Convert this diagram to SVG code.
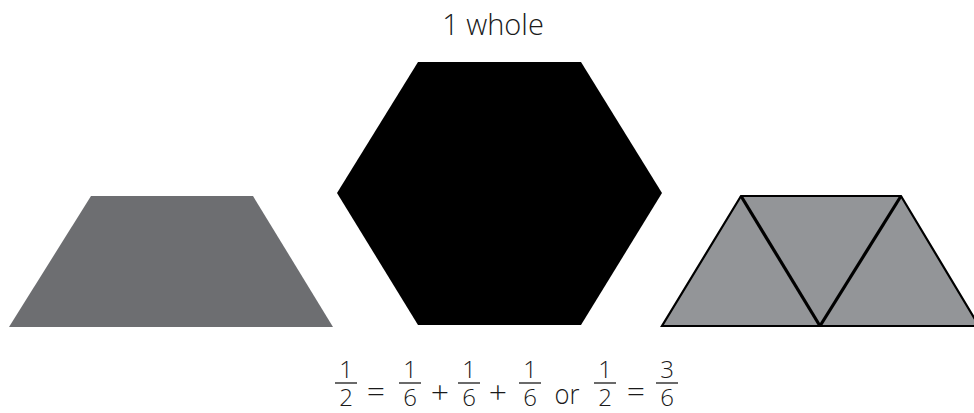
<svg xmlns="http://www.w3.org/2000/svg" width="974" height="413" viewBox="0 0 974 413">
<style>
.t{font-family:"Open Sans","Liberation Sans",sans-serif;font-weight:300;fill:#1a1a1a;text-anchor:middle}
.d{font-size:24px}
.op{font-size:32px}
.bar{stroke:#1a1a1a;stroke-width:1.3}
.tri{fill:#939598;stroke:#000;stroke-width:2.2;stroke-linejoin:miter}
.cut{stroke:#000;stroke-width:3.2}
</style>
<rect width="974" height="413" fill="#fff"/>
<g id="title"><text class="t" x="493" y="35" font-size="29">1 whole</text></g>
<g id="trapezoid"><polygon points="91,196 253,196 333,327 9,327" fill="#6d6e71"/></g>
<g id="hexagon"><polygon points="418,62 581,62 662,193 581,325 418,325 337,193" fill="#000"/></g>
<g id="triangles">
<polygon class="tri" points="662,326 979,326 901,196 741,196"/>
<line class="cut" x1="741" y1="196" x2="820" y2="326"/>
<line class="cut" x1="820" y1="326" x2="901" y2="196"/>
</g>
<g id="equation">
<text class="t d" x="346" y="378">1</text><line class="bar" x1="335" y1="383" x2="357" y2="383"/><text class="t d" x="346" y="406">2</text>
<text class="t op" x="376" y="402">=</text>
<text class="t d" x="410" y="378">1</text><line class="bar" x1="399" y1="383" x2="421" y2="383"/><text class="t d" x="410" y="406">6</text>
<text class="t op" x="440" y="404">+</text>
<text class="t d" x="469" y="378">1</text><line class="bar" x1="458" y1="383" x2="480" y2="383"/><text class="t d" x="469" y="406">6</text>
<text class="t op" x="498" y="404">+</text>
<text class="t d" x="530" y="378">1</text><line class="bar" x1="519" y1="383" x2="541" y2="383"/><text class="t d" x="530" y="406">6</text>
<text class="t" x="567" y="404" font-size="28" textLength="25" lengthAdjust="spacingAndGlyphs">or</text>
<text class="t d" x="605" y="378">1</text><line class="bar" x1="594" y1="383" x2="616" y2="383"/><text class="t d" x="605" y="406">2</text>
<text class="t op" x="636" y="402">=</text>
<text class="t d" x="667" y="378">3</text><line class="bar" x1="656" y1="383" x2="678" y2="383"/><text class="t d" x="667" y="406">6</text>
</g>
</svg>
